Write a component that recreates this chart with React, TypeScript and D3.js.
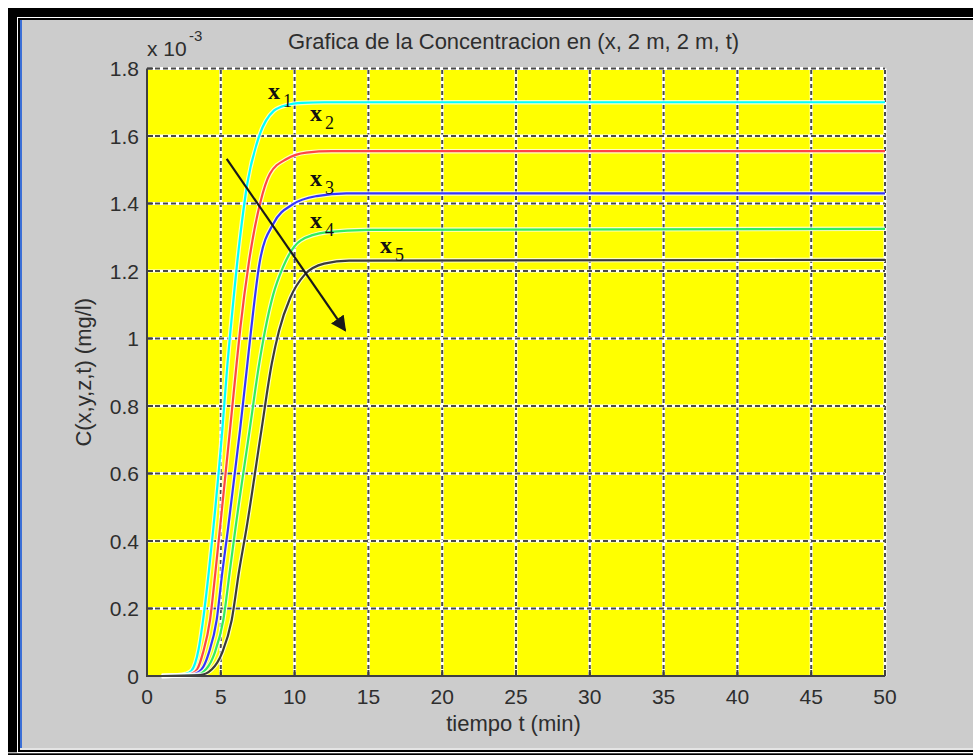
import * as d3 from "d3";
import React from "react";

// tiempo (min) y concentracion (x 10^-3 mg/l)
const serieX1 = [
  [1, 0], [2, 0.002], [2.6, 0.006], [3, 0.015], [3.5, 0.08], [3.8, 0.166],
  [4.2, 0.314], [4.5, 0.44], [5.1, 0.728], [5.45, 0.925], [5.65, 1.02],
  [6.2, 1.26], [6.8, 1.46], [7.6, 1.6], [8.6, 1.675], [9.5, 1.692],
  [10.5, 1.698], [12, 1.7], [50, 1.7],
];
const serieX2 = [
  [1, 0], [2.5, 0.002], [3, 0.006], [3.4, 0.02], [3.8, 0.07], [4.27, 0.166],
  [4.65, 0.314], [4.95, 0.44], [5.62, 0.728], [6.07, 0.925], [6.32, 1.03],
  [6.9, 1.225], [7.66, 1.4], [8.33, 1.488], [9.46, 1.532], [10.8, 1.551],
  [12.5, 1.555], [50, 1.555],
];
const serieX3 = [
  [1, 0], [3, 0.003], [3.7, 0.02], [4.2, 0.07], [4.72, 0.166], [5.12, 0.314],
  [5.5, 0.44], [6.3, 0.728], [6.8, 0.925], [7.05, 1.024], [7.65, 1.23],
  [8.56, 1.34], [9.9, 1.398], [11.5, 1.422], [13.5, 1.43], [50, 1.43],
];
const serieX4 = [
  [1, 0], [3.3, 0.003], [4.0, 0.02], [4.6, 0.07], [5.17, 0.166], [5.62, 0.314],
  [6.0, 0.44], [6.95, 0.728], [7.6, 0.925], [8.0, 1.024], [8.55, 1.13],
  [9.2, 1.21], [10.4, 1.29], [12.2, 1.315], [15, 1.322], [50, 1.325],
];
const serieX5 = [
  [1, 0], [3.6, 0.003], [4.4, 0.02], [5.1, 0.07], [5.74, 0.166], [6.25, 0.314],
  [6.75, 0.44], [7.75, 0.728], [8.45, 0.925], [8.95, 1.024], [9.7, 1.12],
  [10.7, 1.19], [12, 1.222], [13.7, 1.231], [50, 1.233],
];

const series = [serieX1, serieX2, serieX3, serieX4, serieX5];
const colores = ["#00ffff", "#ff4545", "#3535ff", "#30ee60", "#3a3a3a"];

// etiquetas x1..x5 (posicion en coordenadas de datos)
const etiquetas = ["1", "2", "3", "4", "5"];
const etiquetaPos = [
  [8.2, 1.71], [11.04, 1.645], [11.04, 1.453], [11.04, 1.327], [15.79, 1.254],
];

// flecha
const flecha = [[5.4, 1.532], [13.43, 1.024]];

const xTicks = [0, 5, 10, 15, 20, 25, 30, 35, 40, 45, 50];
const yTicks = [0, 0.2, 0.4, 0.6, 0.8, 1, 1.2, 1.4, 1.6, 1.8];

const W = 973;
const H = 755;

export default function App() {
  const x = d3.scaleLinear().domain([0, 50]).range([147, 885]);
  const y = d3.scaleLinear().domain([0, 1.8]).range([676, 68.5]);

  const linea = d3
    .line<number[]>()
    .x((d) => x(d[0]))
    .y((d) => y(d[1]))
    .curve(d3.curveMonotoneX);

  const textCol = "#2e2e2e";
  const sans = "'Liberation Sans', Arial, sans-serif";

  return (
    <svg
      width={W}
      height={H}
      style={{ position: "absolute", left: 0, top: 0 }}
    >
      <defs>
        <marker
          id="punta"
          viewBox="0 0 10 10"
          refX="9"
          refY="5"
          markerWidth="7"
          markerHeight="7"
          markerUnits="strokeWidth"
          orient="auto"
        >
          <path d="M0,0 L10,5 L0,10 z" fill="#1a1a1a" />
        </marker>
      </defs>

      {/* marco de la ventana */}
      <rect x={0} y={0} width={W} height={H} fill="#ffffff" />
      <rect x={8} y={8} width={W - 8} height={H - 8} fill="#000000" />
      <rect x={17} y={17} width={W - 17} height={736} fill="#ffffff" />
      <rect x={18} y={18} width={W - 18} height={734} fill="#000000" />
      <rect x={20} y={20} width={W - 20} height={730} fill="#e4e4e4" />
      <rect x={20} y={20} width={W - 20} height={728} fill="#cccccc" />
      <rect x={20} y={20} width={2} height={728} fill="#3b6fd6" />
      <rect x={0} y={752.3} width={W} height={1} fill="#ffffff" />

      {/* area del grafico */}
      <rect
        x={x(0)}
        y={y(1.8)}
        width={x(50) - x(0)}
        height={y(0) - y(1.8)}
        fill="#ffff00"
      />

      {/* rejilla */}
      <g>
        {xTicks.slice(1).map((t) => (
          <g key={"gx" + t}>
            <line x1={x(t)} x2={x(t)} y1={y(0)} y2={y(1.8)} stroke="#ffffff" strokeWidth={3} />
            <line
              x1={x(t)}
              x2={x(t)}
              y1={y(0)}
              y2={y(1.8)}
              stroke="#4a4a4a"
              strokeWidth={2}
              strokeDasharray="4,3"
            />
          </g>
        ))}
        {yTicks.slice(1).map((v) => (
          <g key={"gy" + v}>
            <line x1={x(0)} x2={x(50)} y1={y(v)} y2={y(v)} stroke="#ffffff" strokeWidth={3} />
            <line
              x1={x(0)}
              x2={x(50)}
              y1={y(v)}
              y2={y(v)}
              stroke="#4a4a4a"
              strokeWidth={2}
              strokeDasharray="5,3"
            />
          </g>
        ))}
      </g>

      {/* curvas */}
      {series.map((s, i) => (
        <g key={"s" + i}>
          <path d={linea(s) || ""} fill="none" stroke="#ffffff" strokeOpacity={0.75} strokeWidth={4.5} />
          <path d={linea(s) || ""} fill="none" stroke={colores[i]} strokeWidth={2.2} />
        </g>
      ))}

      {/* flecha */}
      <line
        x1={x(flecha[0][0])}
        y1={y(flecha[0][1])}
        x2={x(flecha[1][0])}
        y2={y(flecha[1][1])}
        stroke="#1a1a1a"
        strokeWidth={2.2}
        markerEnd="url(#punta)"
      />

      {/* etiquetas x1..x5 */}
      {etiquetas.map((e, i) => (
        <g key={"e" + i}>
          <text
            x={x(etiquetaPos[i][0])}
            y={y(etiquetaPos[i][1])}
            fontFamily="'Liberation Serif', 'Times New Roman', serif"
            fontWeight="bold"
            fontSize={24}
            fill="#111111"
          >
            x
          </text>
          <text
            x={x(etiquetaPos[i][0]) + 15}
            y={y(etiquetaPos[i][1]) + 8}
            fontFamily="'Liberation Serif', 'Times New Roman', serif"
            fontSize={18}
            fill="#111111"
          >
            {e}
          </text>
        </g>
      ))}

      {/* ejes */}
      <line x1={x(0)} x2={x(0)} y1={y(0) + 1} y2={y(1.8)} stroke="#404040" strokeWidth={2} />
      <line x1={x(0) - 1} x2={x(50)} y1={y(0)} y2={y(0)} stroke="#404040" strokeWidth={2} />
      {xTicks.map((t) => (
        <g key={"tx" + t}>
          <line x1={x(t)} x2={x(t)} y1={y(0)} y2={y(0) - 6} stroke="#404040" strokeWidth={2} />
          <text
            x={x(t)}
            y={704}
            textAnchor="middle"
            fontFamily={sans}
            fontSize={21}
            fill={textCol}
          >
            {t}
          </text>
        </g>
      ))}
      {yTicks.map((v) => (
        <g key={"ty" + v}>
          <line x1={x(0)} x2={x(0) + 6} y1={y(v)} y2={y(v)} stroke="#404040" strokeWidth={2} />
          <text
            x={139}
            y={y(v) + 7.5}
            textAnchor="end"
            fontFamily={sans}
            fontSize={21}
            fill={textCol}
          >
            {d3.format("~g")(v)}
          </text>
        </g>
      ))}

      {/* factor de escala */}
      <text x={147} y={56} fontFamily={sans} fontSize={21} fill={textCol}>
        x 10
      </text>
      <text x={189} y={41} fontFamily={sans} fontSize={15} fill={textCol}>
        -3
      </text>

      {/* titulo y rotulos */}
      <text
        x={513.5}
        y={49}
        textAnchor="middle"
        fontFamily={sans}
        fontSize={22}
        fill={textCol}
      >
        Grafica de la Concentracion en (x, 2 m, 2 m, t)
      </text>
      <text
        x={513.5}
        y={731}
        textAnchor="middle"
        fontFamily={sans}
        fontSize={22}
        fill={textCol}
      >
        tiempo t (min)
      </text>
      <text
        transform={`translate(91, ${(y(0) + y(1.8)) / 2}) rotate(-90)`}
        textAnchor="middle"
        fontFamily={sans}
        fontSize={22}
        fill={textCol}
      >
        C(x,y,z,t) (mg/l)
      </text>
    </svg>
  );
}
